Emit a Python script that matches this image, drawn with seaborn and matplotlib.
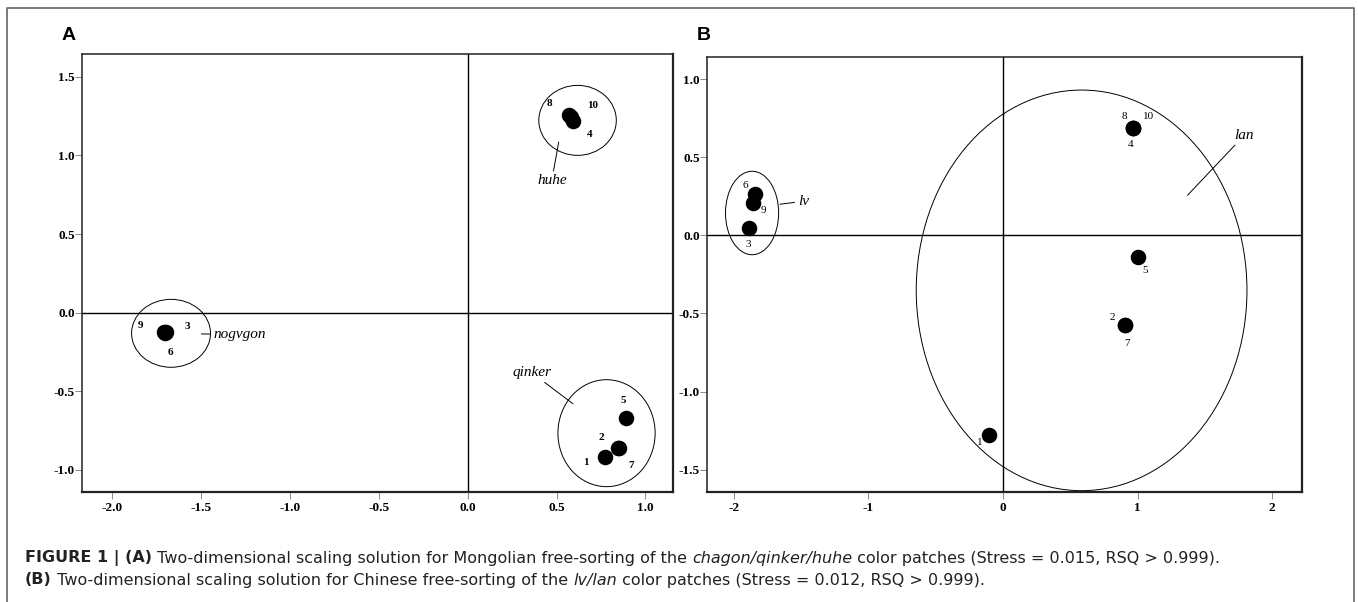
import numpy as np
import pandas as pd
import matplotlib
matplotlib.use("Agg")
import matplotlib.pyplot as plt
from matplotlib.patches import Ellipse
from matplotlib.lines import Line2D
import seaborn as sns

# ---- panel A: Mongolian free-sorting (chagon/qinker/huhe) ----
a_patch = ['8', '10', '4', '9', '3', '6', '5', '2', '7', '1']
a_x = [0.57, 0.58, 0.595, -1.71, -1.70, -1.705, 0.891, 0.846, 0.852, 0.773]
a_y = [1.26, 1.245, 1.22, -0.12, -0.125, -0.13, -0.668, -0.858, -0.862, -0.915]

a_groups = ['huhe', 'nogvgon', 'qinker']
a_group_cx = [0.618, -1.669, 0.781]
a_group_cy = [1.223, -0.131, -0.766]
a_group_w = [0.436, 0.444, 0.547]
a_group_h = [0.445, 0.432, 0.68]

# ---- panel B: Chinese free-sorting (lv/lan) ----
b_patch = ['8', '10', '4', '5', '2', '7', '1', '6', '9', '3']
b_x = [0.968, 0.968, 0.968, 1.006, 0.903, 0.903, -0.103, -1.844, -1.859, -1.888]
b_y = [0.684, 0.684, 0.684, -0.139, -0.574, -0.574, -1.277, 0.263, 0.205, 0.045]

b_groups = ['lv', 'lan']
b_group_cx = [-1.865, 0.584]
b_group_cy = [0.143, -0.352]
b_group_w = [0.395, 2.458]
b_group_h = [0.534, 2.563]

# label placement (pixel offsets of the patch numbers from their dot)
a_label_off = {'8': (-20, 11), '10': (22, 11), '4': (16, -14), '9': (-23, 6), '3': (22, 6),
               '6': (6, -19), '5': (-3, 17), '2': (-17, 10), '7': (12, -17), '1': (-19, -6)}
b_label_off = {'8': (-9, 12), '10': (15, 12), '4': (-3, -16), '5': (7, -13), '2': (-12, 8),
               '7': (3, -18), '1': (-9, -8), '6': (-10, 9), '9': (10, -7), '3': (-1, -16)}

# group name text position, leader line end, alignment
a_name_pos = {'huhe': ((0.473, 0.84), (0.512, 1.085), 'center'),
              'nogvgon': ((-1.431, -0.137), (-1.498, -0.135), 'left'),
              'qinker': ((0.36, -0.381), (0.592, -0.579), 'center')}
b_name_pos = {'lv': ((-1.525, 0.218), (-1.658, 0.199), 'left'),
              'lan': ((1.72, 0.64), (1.371, 0.256), 'left')}

W, H = 1358, 602
sns.set_style("white")
plt.rcParams['font.family'] = ['Liberation Serif', 'DejaVu Serif']
plt.rcParams['axes.unicode_minus'] = False
plt.rcParams['text.color'] = 'black'
plt.rcParams['xtick.labelcolor'] = 'black'
plt.rcParams['ytick.labelcolor'] = 'black'

fig = plt.figure(figsize=(W / 100, H / 100), dpi=100)


def px_axes(l, t, r, b):
    return fig.add_axes([l / W, 1 - b / H, (r - l) / W, (b - t) / H])


def draw_panel(ax, xs, ys, patches, offs, gx, gy, gw, gh, names, name_pos,
               xlim, ylim, xticks, yticks, xfmt, yfmt, num_weight):
    df = pd.DataFrame({'x': xs, 'y': ys, 'patch': patches})
    ax.axhline(0, color='black', lw=1.0, zorder=1)
    ax.axvline(0, color='black', lw=1.0, zorder=1)
    sns.scatterplot(data=df, x='x', y='y', s=125, color='black', edgecolor='black',
                    linewidth=0, ax=ax, legend=False, zorder=3)
    for _, row in df.iterrows():
        dx, dy = offs[row['patch']]
        ax.annotate(row['patch'], (row['x'], row['y']), xytext=(dx, dy),
                    textcoords='offset pixels', ha='center', va='center',
                    fontsize=8, fontweight=num_weight)
    for cx, cy, w, h in zip(gx, gy, gw, gh):
        ax.add_patch(Ellipse((cx, cy), w, h, fill=False, lw=0.7, color='black'))
    for name in names:
        txt, tip, ha = name_pos[name]
        ax.annotate(name, xy=tip, xytext=txt, ha=ha, va='center', fontsize=11,
                    style='italic',
                    arrowprops=dict(arrowstyle='-', lw=0.7, color='black',
                                    shrinkA=0, shrinkB=0))
    ax.set_xlim(*xlim)
    ax.set_ylim(*ylim)
    ax.set_xticks(xticks)
    ax.set_yticks(yticks)
    ax.set_xticklabels([xfmt % v for v in xticks])
    ax.set_yticklabels([yfmt % v for v in yticks])
    ax.set_xlabel('')
    ax.set_ylabel('')
    ax.tick_params(axis='both', direction='out', length=5, width=0.6, color='#777',
                   labelsize=9.5, labelcolor='black', bottom=True, left=True)
    ax.tick_params(axis='x', pad=2)
    ax.tick_params(axis='y', pad=0)
    for lab in ax.get_xticklabels() + ax.get_yticklabels():
        lab.set_fontweight('bold')
    for side, sp in ax.spines.items():
        sp.set_visible(True)
        sp.set_color('#222')
        sp.set_linewidth(1.6 if side in ('right', 'bottom') else 1.1)


axA = px_axes(82, 54, 673, 492)
draw_panel(axA, a_x, a_y, a_patch, a_label_off, a_group_cx, a_group_cy, a_group_w,
           a_group_h, a_groups, a_name_pos, (-2.17, 1.155), (-1.14, 1.645),
           np.arange(-2.0, 1.01, 0.5), np.arange(-1.0, 1.51, 0.5), '%.1f', '%.1f', 'bold')

axB = px_axes(707, 57, 1302, 492)
draw_panel(axB, b_x, b_y, b_patch, b_label_off, b_group_cx, b_group_cy, b_group_w,
           b_group_h, b_groups, b_name_pos, (-2.2, 2.222), (-1.642, 1.141),
           np.arange(-2, 2.1, 1), np.arange(-1.5, 1.01, 0.5), '%d', '%.1f', 'normal')

# panel letters
for letter, x in (('A', 62), ('B', 697)):
    fig.text(x / W, 1 - 35 / H, letter, fontsize=14, fontweight='bold', color='black',
             family='Liberation Sans', va='center', ha='left')

# outer frame (open at bottom)
fig.add_artist(Line2D([7 / W, 7 / W, 1354 / W, 1354 / W], [0, 1 - 8 / H, 1 - 8 / H, 0],
                      transform=fig.transFigure, color='#666', lw=1.2))

# caption
cap1 = [("FIGURE 1 | (A)", 'bold', 'normal'),
        (" Two-dimensional scaling solution for Mongolian free-sorting of the ", 'normal', 'normal'),
        ("chagon/qinker/huhe", 'normal', 'italic'),
        (" color patches (Stress = 0.015, RSQ > 0.999).", 'normal', 'normal')]
cap2 = [("(B)", 'bold', 'normal'),
        (" Two-dimensional scaling solution for Chinese free-sorting of the ", 'normal', 'normal'),
        ("lv/lan", 'normal', 'italic'),
        (" color patches (Stress = 0.012, RSQ > 0.999).", 'normal', 'normal')]

renderer = fig.canvas.get_renderer()
for pieces, yc in ((cap1, 558), (cap2, 580)):
    x = 25
    for s, wt, st in pieces:
        t = fig.text(x / W, 1 - yc / H, s, fontsize=11.5, fontweight=wt, style=st,
                     family='DejaVu Sans', va='center', ha='left', color='#222')
        x += t.get_window_extent(renderer).width

fig.savefig('out.png', dpi=100)
